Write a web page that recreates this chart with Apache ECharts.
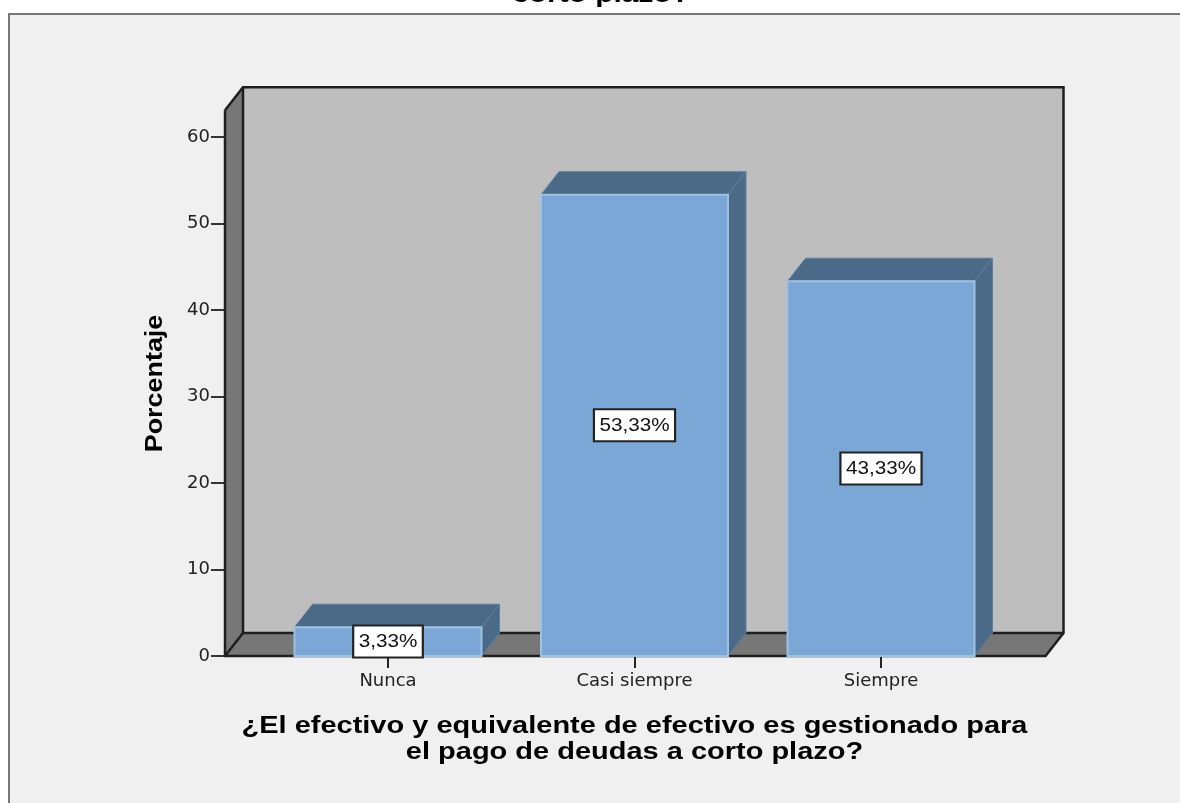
<!DOCTYPE html>
<html><head><meta charset="utf-8">
<style>html,body{margin:0;padding:0;background:#fff}#c{width:1180px;height:803px}</style>
<script src="https://cdn.jsdelivr.net/npm/echarts@6/dist/echarts.min.js"></script></head>
<body><div id="c"></div>
<script>
const categories = ['Nunca', 'Casi siempre', 'Siempre'];
const percentages = [3.33, 53.33, 43.33];
const yTicks = [0, 10, 20, 30, 40, 50, 60];
const chartTitle = 'corto plazo?';
const xTitle = '¿El efectivo y equivalente de efectivo es gestionado para\nel pago de deudas a corto plazo?';
const yTitle = 'Porcentaje';

const FONT = '"Liberation Sans", Arial, sans-serif';
const AXIS_FONT = '"DejaVu Sans", sans-serif';
const DX = 18, DY = 23;
const WALL_TOP = 63.1;
const GRID = {left: 264.75, width: 739.5, top: 137, height: 519};
const FLOOR_LEFT = 225, FLOOR_RIGHT = 1045.5;
const LINE = '#1e1e1e', WALL = '#777777', BACK = '#bebebe';
const FRONT = '#7aa7d5', SHADE = '#4a6a87', EDGE = '#9cc2e4';

function renderWalls(params, api) {
  const y0 = api.coord([0, 0])[1], yT = api.coord([0, WALL_TOP])[1];
  const l = FLOOR_LEFT, r = FLOOR_RIGHT;
  const ln = (pts) => ({type: 'polyline', shape: {points: pts}, style: {stroke: LINE, lineWidth: 2.5, fill: null}});
  const pg = (pts, fill) => ({type: 'polygon', shape: {points: pts}, style: {fill, stroke: null}});
  return {type: 'group', children: [
    pg([[l + DX, yT - DY], [r + DX, yT - DY], [r + DX, y0 - DY], [l + DX, y0 - DY]], BACK),
    pg([[l, y0], [l + DX, y0 - DY], [l + DX, yT - DY], [l, yT]], WALL),
    pg([[l, y0], [l + DX, y0 - DY], [r + DX, y0 - DY], [r, y0]], WALL),
    ln([[l, yT], [l + DX, yT - DY], [r + DX, yT - DY], [r + DX, y0 - DY], [r, y0], [l, y0], [l, yT]]),
    ln([[l + DX, yT - DY], [l + DX, y0 - DY], [r + DX, y0 - DY]]),
    ln([[l, y0], [l + DX, y0 - DY]])
  ]};
}
function renderBar(params, api) {
  const c = api.coord([api.value(0), 0]), t = api.coord([api.value(0), api.value(1)]);
  const w = api.size([1, 0])[0] * 0.7586;
  const l = c[0] - w / 2, r = c[0] + w / 2, y0 = c[1], y1 = t[1];
  const side = {stroke: '#5f7f9c', lineWidth: 1};
  return {type: 'group', children: [
    {type: 'polygon', shape: {points: [[l, y1], [l + DX, y1 - DY], [r + DX, y1 - DY], [r, y1]]}, style: {fill: SHADE, ...side}},
    {type: 'polygon', shape: {points: [[r, y1], [r + DX, y1 - DY], [r + DX, y0 - DY], [r, y0]]}, style: {fill: SHADE, ...side}},
    {type: 'rect', shape: {x: l, y: y1, width: w, height: y0 - y1}, style: {fill: FRONT, stroke: EDGE, lineWidth: 2}}
  ]};
}
function renderLabel(params, api) {
  const p = api.coord([api.value(0), api.value(1) / 2]);
  return {type: 'text', x: p[0], y: p[1], scaleX: 1.09, z2: 10, style: {
    text: api.value(1).toFixed(2).replace('.', ',') + '%',
    x: 0, y: 0, align: 'center', verticalAlign: 'middle',
    font: '19px ' + FONT, fill: '#111',
    backgroundColor: '#fff', borderColor: '#222', borderWidth: 2, padding: [6, 4, 5, 4]
  }};
}
const barData = categories.map((c, i) => [i, percentages[i]]);
const chart = echarts.init(document.getElementById('c'), null, {renderer: 'canvas'});
chart.setOption({
  animation: false,
  backgroundColor: '#ffffff',
  graphic: [
    {type: 'rect', z: -10, silent: true, shape: {x: 9, y: 14, width: 1180, height: 800},
      style: {fill: '#f0f0f0', stroke: '#777', lineWidth: 2}},
    {type: 'text', x: 601, y: -4, scaleX: 1.3, z: 10, silent: true, style: {text: chartTitle, align: 'center', verticalAlign: 'middle',
      font: 'bold 23px ' + FONT, fill: '#000'}},
    {type: 'text', x: 634.5, y: 739.5, scaleX: 1.26, z: 10, silent: true, style: {text: xTitle, align: 'center', verticalAlign: 'middle',
      font: 'bold 23px ' + FONT, fill: '#000', lineHeight: 26}},
    {type: 'text', x: 156, y: 383.5, rotation: Math.PI / 2, scaleX: 1.17, z: 10, silent: true, style: {text: yTitle, align: 'center', verticalAlign: 'middle',
      font: 'bold 23px ' + FONT, fill: '#000'}}
  ],
  grid: {left: GRID.left, width: GRID.width, top: GRID.top, height: GRID.height, containLabel: false},
  xAxis: {type: 'category', data: categories, z: 1,
    axisLine: {show: false},
    axisTick: {show: true, alignWithLabel: true, length: 12, lineStyle: {color: '#222', width: 2}},
    axisLabel: {fontFamily: AXIS_FONT, fontSize: 18, color: '#222', margin: 16},
    splitLine: {show: false}},
  yAxis: {type: 'value', min: 0, max: yTicks[yTicks.length - 1], interval: 10, offset: 39.75,
    axisLine: {show: false},
    axisTick: {show: true, length: 14, lineStyle: {color: '#333', width: 2}},
    axisLabel: {fontFamily: AXIS_FONT, fontSize: 18, color: '#222', margin: 15, padding: [7, 0, 0, 0]},
    splitLine: {show: false}},
  series: [
    {type: 'custom', name: 'walls', z: 0, clip: false, silent: true, data: [[0, 0]], renderItem: renderWalls},
    {type: 'custom', name: 'Porcentaje', z: 2, clip: false, data: barData, renderItem: renderBar,
      encode: {x: 0, y: 1}},
    {type: 'custom', name: 'etiquetas', z: 3, clip: false, data: barData, renderItem: renderLabel,
      encode: {x: 0, y: 1}}
  ]
});
</script></body></html>
